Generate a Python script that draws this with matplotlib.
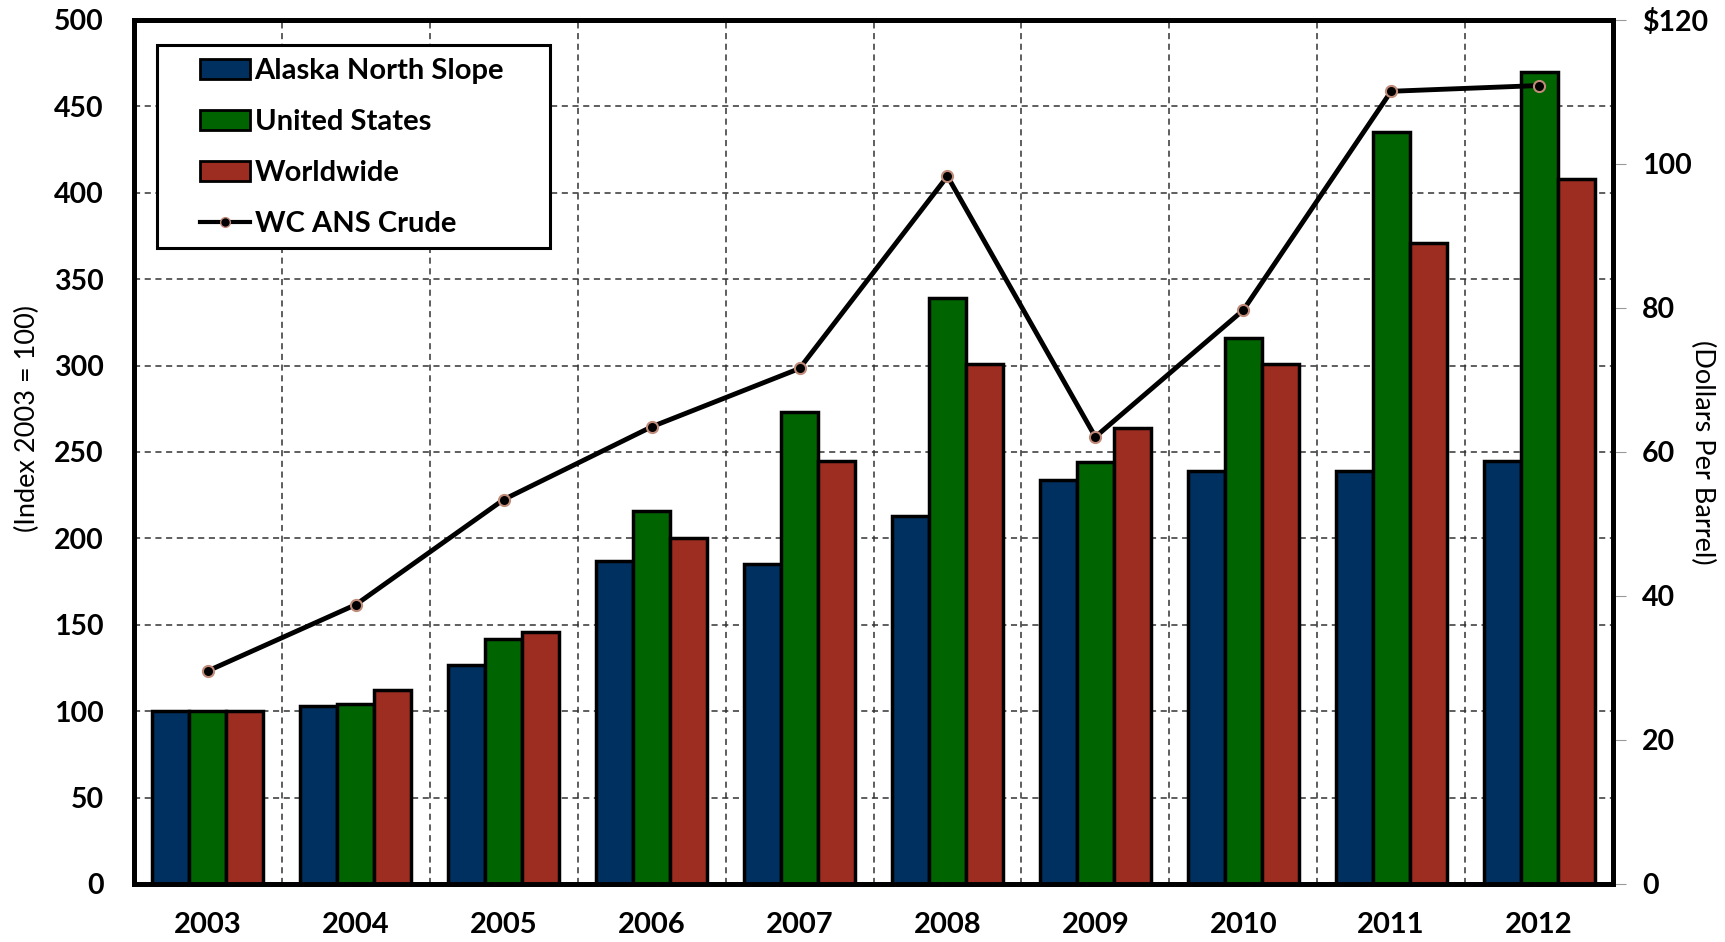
import numpy as np
import matplotlib
matplotlib.use("Agg")
import matplotlib.pyplot as plt
from matplotlib.lines import Line2D
from matplotlib.patches import Patch, Rectangle

plt.rcParams['font.family'] = ['Lato', 'DejaVu Sans']

years = ['2003', '2004', '2005', '2006', '2007', '2008', '2009', '2010', '2011', '2012']
ans_index = [100, 103, 127, 187, 185, 213, 234, 239, 239, 245]
us_index = [100, 104, 142, 216, 273, 339, 244, 316, 435, 470]
world_index = [100, 112, 146, 200, 245, 301, 264, 301, 371, 408]
crude_price = [29.6, 38.8, 53.4, 63.5, 71.6, 98.3, 62.1, 79.7, 110.1, 110.9]

series_names = ['Alaska North Slope', 'United States', 'Worldwide']
series_colors = ['#00305f', '#006400', '#9c2d20']

W, H = 1725, 942
fig = plt.figure(figsize=(W / 100, H / 100), dpi=100)
# axes box in pixels: left 134, right 1613, top 20, bottom 884
ax = fig.add_axes([134 / W, 1 - 884 / H, (1613 - 134) / W, (884 - 20) / H])

x = np.arange(len(years))
w = 0.25
for i, (vals, c) in enumerate(zip([ans_index, us_index, world_index], series_colors)):
    ax.bar(x + (i - 1) * w, vals, w, color=c, edgecolor='black', linewidth=2.5, zorder=3)

ax.set_xlim(-0.5, len(years) - 0.5)
ax.set_ylim(0, 500)
ax.set_yticks(np.arange(0, 501, 50))
ax.set_xticks(x)
ax.set_xticklabels(years)
ax.set_xticks(np.arange(-0.5, len(years)), minor=True)
ax.grid(False)
ax.grid(axis='x', which='minor', linestyle=(0, (4, 3)), color='#333333', linewidth=1.1, zorder=0)
ax.grid(axis='y', which='major', linestyle=(0, (4, 3)), color='#333333', linewidth=1.1, zorder=0)
ax.tick_params(axis='x', which='both', length=0, labelsize=21, pad=20)
ax.tick_params(axis='y', length=0, labelsize=20.5, pad=22)
for t in ax.get_xticklabels() + ax.get_yticklabels():
    t.set_fontweight('bold')

for s in ax.spines.values():
    s.set_linewidth(3.5)
    s.set_color('black')

ax2 = ax.twinx()
ax2.plot(x, crude_price, color='black', linewidth=3.5, marker='o', markersize=8,
         markerfacecolor='black', markeredgecolor='#c08a78', markeredgewidth=1.5, zorder=5)
ax2.set_ylim(0, 120)
ax2.set_yticks(np.arange(0, 121, 20))
ax2.set_yticklabels(['0', '20', '40', '60', '80', '100', '$120'])
ax2.tick_params(axis='y', length=9, color='#999999', labelsize=20.5, pad=12)
for t in ax2.get_yticklabels():
    t.set_fontweight('bold')
for s in ax2.spines.values():
    s.set_linewidth(3.5)

fig.text(27 / W, 1 - 418 / H, '(Index 2003 = 100)', rotation=90, fontsize=19.5,
         ha='center', va='center')
fig.text(1703 / W, 1 - 452 / H, '(Dollars Per Barrel)', rotation=270, fontsize=19.5,
         ha='center', va='center')

# legend frame (wider than its entries, as in the original)
ax2.add_patch(Rectangle((157 / W, 1 - 248 / H), (550 - 157) / W, (248 - 45) / H,
                        transform=fig.transFigure, facecolor='white', edgecolor='black',
                        linewidth=2.2, zorder=6))
handles = [Patch(facecolor=c, edgecolor='black', linewidth=2) for c in series_colors]
handles.append(Line2D([0], [0], color='black', linewidth=3, marker='o', markersize=7,
                      markerfacecolor='black', markeredgecolor='#c08a78'))
leg = fig.legend(handles, series_names + ['WC ANS Crude'], loc='upper left',
                 bbox_to_anchor=(200 / W, 1 - 58 / H), fontsize=21, frameon=False,
                 handlelength=1.7, handleheight=0.7, handletextpad=0.17,
                 labelspacing=0.86, borderpad=0, borderaxespad=0)
leg.set_zorder(7)
for t in leg.get_texts():
    t.set_fontweight('bold')

fig.savefig('out.png', dpi=100)
